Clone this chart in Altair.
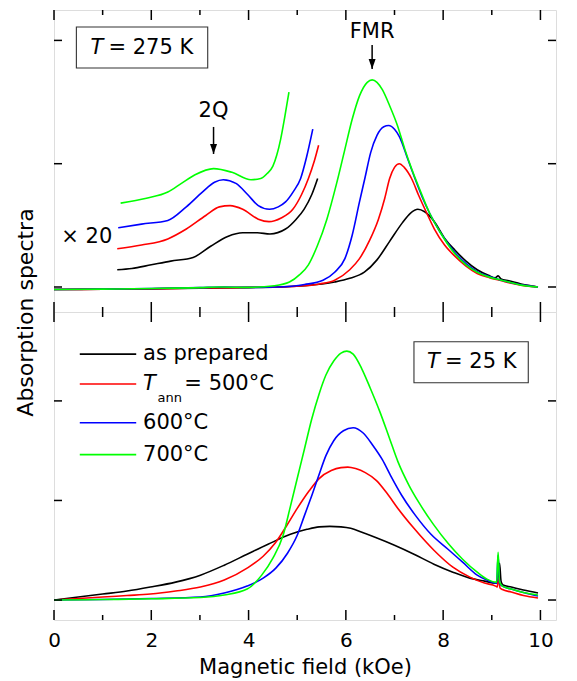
import altair as alt
import pandas as pd

# ---------------- data ----------------
samples = ["as prepared", "500°C", "600°C", "700°C"]
line_colors = ["#000000", "#ff0000", "#0000ff", "#00ff00"]

x_major = [0, 2, 4, 6, 8, 10]
x_minor = [1, 3, 5, 7, 9]
y_ticks = [0, 1, 2]

# top panel (T = 275 K), main spectra
t_black_x = [0, 1, 2, 3, 4, 4.6, 5.15, 5.77, 6.08, 6.38, 6.64, 6.9, 7.16, 7.33, 7.48, 7.62, 7.82, 8.04, 8.24, 8.47, 8.7, 8.93, 9.07, 9.13, 9.19, 9.35, 9.6, 9.8, 9.95]
t_black_y = [-0.02, -0.018, -0.015, -0.01, -0.005, 0.0, 0.01, 0.04, 0.07, 0.12, 0.22, 0.37, 0.52, 0.60, 0.63, 0.61, 0.53, 0.39, 0.30, 0.21, 0.14, 0.095, 0.075, 0.09, 0.065, 0.05, 0.025, 0.01, 0.0]
t_red_x = [0, 1, 2, 3, 4, 4.6, 5.15, 5.46, 5.77, 6.08, 6.28, 6.49, 6.67, 6.8, 6.9, 7.0, 7.1, 7.2, 7.35, 7.5, 7.65, 7.82, 8.03, 8.24, 8.47, 8.7, 8.95, 9.2, 9.4, 9.6, 9.8, 9.95]
t_red_y = [-0.02, -0.018, -0.014, -0.008, -0.003, 0.0, 0.01, 0.025, 0.055, 0.14, 0.23, 0.38, 0.55, 0.72, 0.88, 0.97, 1.0, 0.97, 0.88, 0.74, 0.61, 0.47, 0.34, 0.25, 0.17, 0.11, 0.075, 0.05, 0.03, 0.015, 0.005, 0.0]
t_blue_x = [0, 1, 2, 3, 3.5, 4, 4.6, 5.15, 5.53, 5.77, 5.98, 6.13, 6.28, 6.39, 6.51, 6.64, 6.78, 6.88, 7.0, 7.1, 7.28, 7.42, 7.58, 7.72, 7.93, 8.24, 8.47, 8.7, 8.95, 9.2, 9.4, 9.6, 9.8, 9.95]
t_blue_y = [-0.02, -0.017, -0.012, -0.005, 0.0, -0.003, 0.0, 0.02, 0.055, 0.12, 0.23, 0.42, 0.69, 0.88, 1.09, 1.23, 1.30, 1.31, 1.28, 1.22, 1.03, 0.88, 0.72, 0.6, 0.45, 0.28, 0.19, 0.125, 0.085, 0.055, 0.035, 0.018, 0.007, 0.0]
t_green_x = [0, 1, 2, 3, 3.4, 4, 4.53, 4.84, 5.05, 5.23, 5.41, 5.61, 5.81, 5.97, 6.13, 6.28, 6.44, 6.54, 6.64, 6.75, 6.9, 7.06, 7.21, 7.36, 7.52, 7.72, 7.93, 8.24, 8.47, 8.7, 8.95, 9.2, 9.4, 9.6, 9.8, 9.95]
t_green_y = [-0.02, -0.017, -0.012, -0.005, 0.0, -0.003, 0.01, 0.04, 0.1, 0.18, 0.33, 0.55, 0.84, 1.1, 1.36, 1.55, 1.66, 1.68, 1.66, 1.6, 1.47, 1.31, 1.12, 0.95, 0.79, 0.6, 0.45, 0.27, 0.18, 0.12, 0.08, 0.055, 0.035, 0.015, 0.005, 0.0]

# top panel, x20 magnified low-field part
m_black_x = [1.30, 1.6, 2.0, 2.4, 2.86, 3.22, 3.57, 3.88, 4.18, 4.44, 4.76, 4.98, 5.14, 5.3, 5.42]
m_black_y = [0.14, 0.15, 0.18, 0.21, 0.24, 0.33, 0.41, 0.44, 0.44, 0.43, 0.47, 0.55, 0.63, 0.75, 0.88]
m_red_x = [1.30, 1.8, 2.34, 2.72, 3.12, 3.4, 3.62, 3.88, 4.2, 4.42, 4.67, 4.91, 5.09, 5.23, 5.35, 5.44]
m_red_y = [0.31, 0.34, 0.39, 0.47, 0.58, 0.65, 0.66, 0.63, 0.55, 0.53, 0.56, 0.63, 0.75, 0.88, 1.02, 1.15]
m_blue_x = [1.32, 1.8, 2.34, 2.72, 3.05, 3.3, 3.48, 3.74, 3.98, 4.2, 4.43, 4.61, 4.76, 4.93, 5.07, 5.19, 5.32]
m_blue_y = [0.48, 0.51, 0.54, 0.65, 0.77, 0.85, 0.87, 0.84, 0.75, 0.66, 0.63, 0.65, 0.69, 0.78, 0.88, 1.05, 1.28]
m_green_x = [1.37, 1.9, 2.34, 2.62, 2.9, 3.28, 3.66, 4.05, 4.25, 4.38, 4.5, 4.58, 4.66, 4.74, 4.83]
m_green_y = [0.68, 0.72, 0.77, 0.84, 0.91, 0.96, 0.93, 0.87, 0.88, 0.92, 0.98, 1.07, 1.2, 1.37, 1.58]

# bottom panel (T = 25 K)
b_black_x = [0, 0.5, 1, 1.5, 1.98, 2.5, 3.01, 3.5, 3.97, 4.4, 4.86, 5.2, 5.45, 5.67, 5.9, 6.1, 6.33, 6.6, 7.0, 7.4, 7.81, 8.2, 8.55, 8.85, 9.08, 9.12, 9.16, 9.19, 9.23, 9.4, 9.65, 9.95]
b_black_y = [0.0, 0.03, 0.06, 0.09, 0.13, 0.18, 0.25, 0.35, 0.46, 0.56, 0.66, 0.71, 0.735, 0.74, 0.735, 0.72, 0.68, 0.63, 0.55, 0.46, 0.36, 0.28, 0.22, 0.19, 0.17, 0.18, 0.37, 0.19, 0.15, 0.13, 0.1, 0.07]
b_red_x = [0, 0.5, 1, 1.5, 1.98, 2.5, 3.01, 3.5, 3.97, 4.3, 4.56, 4.8, 5.0, 5.25, 5.45, 5.7, 5.9, 6.04, 6.2, 6.4, 6.63, 6.85, 7.07, 7.4, 7.81, 8.2, 8.55, 8.85, 9.08, 9.11, 9.14, 9.17, 9.22, 9.4, 9.65, 9.95]
b_red_y = [0.0, 0.015, 0.03, 0.045, 0.06, 0.09, 0.13, 0.2, 0.32, 0.44, 0.58, 0.76, 0.92, 1.1, 1.22, 1.3, 1.33, 1.335, 1.32, 1.28, 1.2, 1.07, 0.92, 0.72, 0.5, 0.33, 0.23, 0.17, 0.14, 0.13, 0.22, 0.12, 0.105, 0.08, 0.045, 0.02]
b_blue_x = [0, 1, 2, 3.01, 3.5, 3.97, 4.3, 4.56, 4.8, 5.0, 5.15, 5.3, 5.45, 5.59, 5.75, 5.95, 6.15, 6.35, 6.56, 6.75, 6.92, 7.15, 7.43, 7.75, 8.1, 8.4, 8.7, 8.9, 9.08, 9.1, 9.13, 9.16, 9.22, 9.4, 9.65, 9.95]
b_blue_y = [0.0, 0.005, 0.015, 0.03, 0.07, 0.14, 0.22, 0.32, 0.47, 0.65, 0.85, 1.05, 1.26, 1.45, 1.6, 1.7, 1.73, 1.68, 1.55, 1.41, 1.25, 1.05, 0.85, 0.66, 0.51, 0.38, 0.25, 0.2, 0.17, 0.17, 0.45, 0.17, 0.14, 0.11, 0.075, 0.04]
b_green_x = [0, 1, 2, 3.01, 3.5, 3.97, 4.27, 4.5, 4.71, 4.85, 5.0, 5.15, 5.3, 5.45, 5.59, 5.75, 5.9, 6.02, 6.15, 6.33, 6.5, 6.7, 6.9, 7.07, 7.3, 7.5, 7.8, 8.1, 8.4, 8.7, 8.9, 9.08, 9.1, 9.13, 9.16, 9.22, 9.4, 9.65, 9.95]
b_green_y = [0.0, 0.005, 0.012, 0.025, 0.05, 0.11, 0.25, 0.42, 0.65, 0.92, 1.22, 1.52, 1.82, 2.07, 2.26, 2.4, 2.48, 2.5, 2.47, 2.32, 2.13, 1.89, 1.62, 1.39, 1.15, 0.98, 0.76, 0.57, 0.41, 0.28, 0.21, 0.18, 0.18, 0.48, 0.18, 0.14, 0.11, 0.075, 0.05]

# annotation texts
top_label = ["T", "= 275 K"]
bottom_label = ["T", "= 25 K"]
peak_labels = ["FMR", "2Q"]
scale_label = ["× 20"]
legend_texts = ["as prepared", "= 500°C", "600°C", "700°C"]
legend_T = ["T"]
legend_sub = ["ann"]
x_title = "Magnetic field (kOe)"
y_title = "Absorption spectra"

# annotation placement (data units)
top_label_x = [0.75, 1.12]
top_label_y = 1.942
top_box = [0.46, 3.16, 1.776, 2.109]
bottom_label_x = [7.67, 8.04]
bottom_label_y = 2.386
bottom_box = [7.40, 9.75, 2.182, 2.594]
peak_x = [6.54, 3.28]
peak_text_y = [2.068, 1.431]
arrow_top_y = [1.963, 1.298]
arrow_tip_y = [1.768, 1.079]
scale_pos = [0.15, 0.405]
legend_line_x = [0.53, 1.69]
legend_row_y = [2.47, 2.17, 1.78, 1.46]
legend_text_x = [1.83, 2.68, 1.83, 1.83]
legend_T_pos = [1.83, 2.17]
legend_sub_pos = [2.13, 2.03]

# ---------------- layout ----------------
FONT = "DejaVu Sans"
W = 502
H_TOP = 302
H_BOT = 308
xscale = alt.Scale(domain=[0, 10.32], nice=False, zero=False)
ytop = alt.Scale(domain=[-0.2028, 2.2466], nice=False, zero=False)
ybot = alt.Scale(domain=[-0.2007, 2.893], nice=False, zero=False)
cscale = alt.Scale(domain=samples, range=line_colors)

# the same axis object is used by every layer of a panel, so the merged axis stays enabled
Y_AXIS_TOP = alt.Axis(
    title=y_title, ticks=False, labels=False, domain=False, grid=False,
    titleX=-29, titleY=H_TOP, titleAngle=270, titleAlign="center", titleBaseline="middle",
    titleFont=FONT, titleFontSize=22, titleFontWeight="normal", titleColor="black")
X_AXIS_BOT = alt.Axis(
    values=x_major, ticks=False, domain=False, grid=False, labelPadding=10,
    labelFont=FONT, labelFontSize=20, labelColor="black", labelFlush=False,
    title=x_title, titleFont=FONT, titleFontSize=21, titleFontWeight="normal",
    titleColor="black", titlePadding=6)


def curves(spec):
    rows = []
    for sample, part, xs, ys in spec:
        for i, (xv, yv) in enumerate(zip(xs, ys)):
            rows.append({"x": xv, "y": yv, "sample": sample, "part": part, "i": i})
    return pd.DataFrame(rows)


def tick_layers(H, yscale, xaxis, yaxis):
    xmaj = pd.DataFrame({"v": x_major})
    xmin = pd.DataFrame({"v": x_minor})
    yt = pd.DataFrame({"v": y_ticks})
    X = alt.X("v:Q", scale=xscale, axis=xaxis)
    Y = alt.Y("v:Q", scale=yscale, axis=yaxis)
    st = dict(color="black", strokeWidth=1.5)
    return [
        alt.Chart(xmaj).mark_rule(**st).encode(x=X, y=alt.value(H), y2=alt.value(H - 10)),
        alt.Chart(xmaj).mark_rule(**st).encode(x=X, y=alt.value(0), y2=alt.value(10)),
        alt.Chart(xmin).mark_rule(**st).encode(x=X, y=alt.value(H), y2=alt.value(H - 5)),
        alt.Chart(xmin).mark_rule(**st).encode(x=X, y=alt.value(0), y2=alt.value(5)),
        alt.Chart(yt).mark_rule(**st).encode(y=Y, x=alt.value(0), x2=alt.value(8)),
        alt.Chart(yt).mark_rule(**st).encode(y=Y, x=alt.value(W), x2=alt.value(W - 8)),
    ]


def text_layer(df, yscale, xaxis, yaxis, **kw):
    return alt.Chart(df).mark_text(font=FONT, color="black", baseline="middle", **kw).encode(
        x=alt.X("x:Q", scale=xscale, axis=xaxis),
        y=alt.Y("y:Q", scale=yscale, axis=yaxis),
        text="t:N",
    )


def box_layer(b, yscale, xaxis, yaxis):
    df = pd.DataFrame({"x": [b[0]], "x2": [b[1]], "y": [b[2]], "y2": [b[3]]})
    return alt.Chart(df).mark_rect(filled=False, stroke="#333333", strokeWidth=1.1).encode(
        x=alt.X("x:Q", scale=xscale, axis=xaxis), x2="x2:Q",
        y=alt.Y("y:Q", scale=yscale, axis=yaxis), y2="y2:Q",
    )


# ---------------- top panel ----------------
TX, TY = None, Y_AXIS_TOP
top_df = curves([
    (samples[0], "main", t_black_x, t_black_y),
    (samples[1], "main", t_red_x, t_red_y),
    (samples[2], "main", t_blue_x, t_blue_y),
    (samples[3], "main", t_green_x, t_green_y),
    (samples[0], "x20", m_black_x, m_black_y),
    (samples[1], "x20", m_red_x, m_red_y),
    (samples[2], "x20", m_blue_x, m_blue_y),
    (samples[3], "x20", m_green_x, m_green_y),
])

top_lines = alt.Chart(top_df).mark_line(clip=True, strokeWidth=1.6, interpolate="monotone").encode(
    x=alt.X("x:Q", scale=xscale, axis=TX),
    y=alt.Y("y:Q", scale=ytop, axis=TY),
    color=alt.Color("sample:N", scale=cscale, legend=None),
    detail="part:N",
    order="i:Q",
)

top_T = text_layer(pd.DataFrame({"x": [top_label_x[0]], "y": [top_label_y], "t": [top_label[0]]}), ytop, TX, TY,
                   fontSize=21, fontStyle="italic", align="left")
top_rest = text_layer(pd.DataFrame({"x": [top_label_x[1]], "y": [top_label_y], "t": [top_label[1]]}), ytop, TX, TY,
                      fontSize=21, align="left")
peaks = text_layer(pd.DataFrame({"x": peak_x, "y": peak_text_y, "t": peak_labels}), ytop, TX, TY,
                   fontSize=21, align="center")
x20 = text_layer(pd.DataFrame({"x": [scale_pos[0]], "y": [scale_pos[1]], "t": scale_label}), ytop, TX, TY,
                 fontSize=21, align="left")
arrow_df = pd.DataFrame({"x": peak_x, "y": arrow_top_y, "y2": arrow_tip_y})
shafts = alt.Chart(arrow_df).mark_rule(color="black", strokeWidth=1.5).encode(
    x=alt.X("x:Q", scale=xscale, axis=TX),
    y=alt.Y("y:Q", scale=ytop, axis=TY), y2="y2:Q",
)
heads = alt.Chart(arrow_df).mark_point(
    shape="M -0.35 -1 L 0.35 -1 L 0 0 Z", filled=True, size=400, color="black", opacity=1
).encode(
    x=alt.X("x:Q", scale=xscale, axis=TX),
    y=alt.Y("y2:Q", scale=ytop, axis=TY),
)

top = alt.layer(
    top_lines, *tick_layers(H_TOP, ytop, TX, TY), box_layer(top_box, ytop, TX, TY),
    top_T, top_rest, peaks, x20, shafts, heads
).properties(width=W, height=H_TOP)

# ---------------- bottom panel ----------------
BX, BY = X_AXIS_BOT, None
bot_df = curves([
    (samples[0], "main", b_black_x, b_black_y),
    (samples[1], "main", b_red_x, b_red_y),
    (samples[2], "main", b_blue_x, b_blue_y),
    (samples[3], "main", b_green_x, b_green_y),
])

bot_lines = alt.Chart(bot_df).mark_line(clip=True, strokeWidth=1.6, interpolate="monotone").encode(
    x=alt.X("x:Q", scale=xscale, axis=BX),
    y=alt.Y("y:Q", scale=ybot, axis=BY),
    color=alt.Color("sample:N", scale=cscale, legend=None),
    detail="part:N",
    order="i:Q",
)

leg_df = pd.DataFrame({"sample": samples, "x": [legend_line_x[0]] * 4, "x2": [legend_line_x[1]] * 4,
                       "y": legend_row_y})
leg_lines = alt.Chart(leg_df).mark_rule(strokeWidth=1.6).encode(
    x=alt.X("x:Q", scale=xscale, axis=BX), x2="x2:Q",
    y=alt.Y("y:Q", scale=ybot, axis=BY),
    color=alt.Color("sample:N", scale=cscale, legend=None),
)
leg_text = text_layer(pd.DataFrame({"x": legend_text_x, "y": legend_row_y, "t": legend_texts}), ybot, BX, BY,
                      fontSize=21, align="left")
leg_T = text_layer(pd.DataFrame({"x": [legend_T_pos[0]], "y": [legend_T_pos[1]], "t": legend_T}), ybot, BX, BY,
                   fontSize=21, fontStyle="italic", align="left")
leg_sub = text_layer(pd.DataFrame({"x": [legend_sub_pos[0]], "y": [legend_sub_pos[1]], "t": legend_sub}), ybot, BX, BY,
                     fontSize=13, align="left")
bot_T = text_layer(pd.DataFrame({"x": [bottom_label_x[0]], "y": [bottom_label_y], "t": [bottom_label[0]]}), ybot, BX, BY,
                   fontSize=21, fontStyle="italic", align="left")
bot_rest = text_layer(pd.DataFrame({"x": [bottom_label_x[1]], "y": [bottom_label_y], "t": [bottom_label[1]]}), ybot, BX, BY,
                      fontSize=21, align="left")

bottom = alt.layer(
    bot_lines, *tick_layers(H_BOT, ybot, BX, BY), box_layer(bottom_box, ybot, BX, BY),
    leg_lines, leg_text, leg_T, leg_sub, bot_T, bot_rest
).properties(width=W, height=H_BOT)

chart = alt.vconcat(top, bottom, spacing=0, bounds="flush").properties(
    padding={"left": 5, "top": 0, "right": 5, "bottom": 0}
).configure_view(stroke="black", strokeWidth=1.8).configure(font=FONT, background="white")

chart.save("out.html", embed_options={"renderer": "svg", "actions": False})
